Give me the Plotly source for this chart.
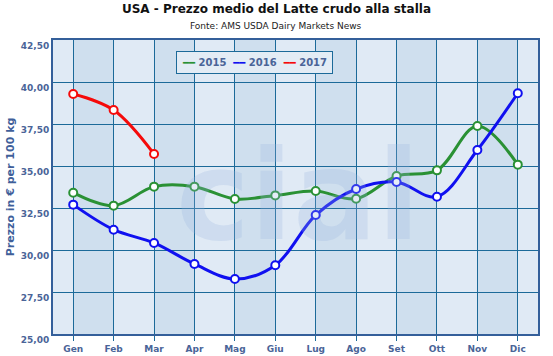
import plotly.graph_objects as go

months = ["Gen", "Feb", "Mar", "Apr", "Mag", "Giu", "Lug", "Ago", "Set", "Ott", "Nov", "Dic"]
y2015 = [33.41, 32.64, 33.77, 33.77, 33.04, 33.25, 33.51, 33.05, 34.40, 34.74, 37.38, 35.08]
y2016 = [32.70, 31.21, 30.42, 29.17, 28.27, 29.09, 32.08, 33.63, 34.05, 33.17, 35.95, 39.33]
y2017 = [39.29, 38.33, 35.71]
series_names = ["2015", "2016", "2017"]
series_colors = ["#2a9134", "#1010f0", "#f50a0a"]
y_ticks = [25, 27.5, 30, 32.5, 35, 37.5, 40, 42.5]
y_tick_labels = ["25,00", "27,50", "30,00", "32,50", "35,00", "37,50", "40,00", "42,50"]

FONT = "DejaVu Sans"
GRID = "#1c6a99"
LABEL = "#4a6498"

fig = go.Figure()
for name, vals, col in zip(series_names, [y2015, y2016, y2017], series_colors):
    fig.add_trace(go.Scatter(
        x=months[:len(vals)], y=vals, name=name, mode="lines+markers", showlegend=False,
        line=dict(color=col, width=3, shape="spline", smoothing=1),
        marker=dict(size=8, color="white", line=dict(color=col, width=2)),
    ))

# compact legend box built as one annotation
legend_text = "&nbsp;&nbsp;".join(
    f"<span style='color:{c}'>━━</span> {n}" for n, c in zip(series_names, series_colors))

# alternating bands
shapes = []
for i in range(0, len(months) - 1, 2):
    shapes.append(dict(type="rect", xref="x", yref="paper", x0=i, x1=i + 1, y0=0, y1=1,
                       fillcolor="#cfdfee", line=dict(width=0), layer="below"))

fig.update_layout(
    width=553, height=356,
    margin=dict(l=53, r=15, t=40, b=22),
    paper_bgcolor="white", plot_bgcolor="#e0eaf5",
    shapes=shapes,
    font=dict(family=FONT, color=LABEL),
    title=dict(text="<b>USA - Prezzo medio del Latte crudo alla stalla</b>", xref="container",
               x=0.5, xanchor="center", yref="container", y=1 - 9 / 356, yanchor="middle",
               font=dict(family=FONT, size=12, color="#111111")),
    annotations=[
        dict(text="Fonte: AMS USDA Dairy Markets News", xref="paper", yref="paper",
             x=(276 - 53) / 485, y=1 + 14 / 294, xanchor="center", yanchor="middle",
             showarrow=False, font=dict(family=FONT, size=9, color="#222222")),
        dict(text="<b>cial</b>", xref="paper", yref="paper", x=(298 - 53) / 485, y=(334 - 195) / 294,
             xanchor="center", yanchor="middle", showarrow=False,
             font=dict(family=FONT, size=125, color="rgba(150,180,222,0.25)")),
        dict(text="<b>" + legend_text + "</b>", xref="paper", yref="paper",
             x=(254 - 53) / 485, y=(334 - 63) / 294, xanchor="center", yanchor="middle",
             showarrow=False, bgcolor="#e3ecf5", bordercolor=GRID, borderwidth=1, borderpad=5,
             font=dict(family=FONT, size=10, color=LABEL)),
    ],
    showlegend=False,
)
fig.update_xaxes(
    type="category", range=[-0.5, 11.5], showgrid=True, gridcolor=GRID, gridwidth=1,
    showline=True, linecolor="#345f9a", linewidth=2, mirror=True, automargin=False,
    ticks="outside", ticklen=5, tickcolor=GRID,
    tickfont=dict(family=FONT, size=9, color=LABEL, weight="bold"), zeroline=False,
)
fig.update_yaxes(
    range=[25, 42.5], tickvals=y_ticks, ticktext=y_tick_labels, showgrid=True, gridcolor=GRID,
    gridwidth=1, showline=True, linecolor="#345f9a", linewidth=2, mirror=True, automargin=False,
    ticks="", ticklabelposition="outside bottom", zeroline=False,
    tickfont=dict(family=FONT, size=9, color=LABEL, weight="bold"),
    title=dict(text="Prezzo in € per 100 kg", standoff=4,
               font=dict(family=FONT, size=11, color="#3f5f9a", weight="bold")),
)
fig.write_html("out.html", config={"displayModeBar": False},
               post_script="document.body.style.margin='0';")
